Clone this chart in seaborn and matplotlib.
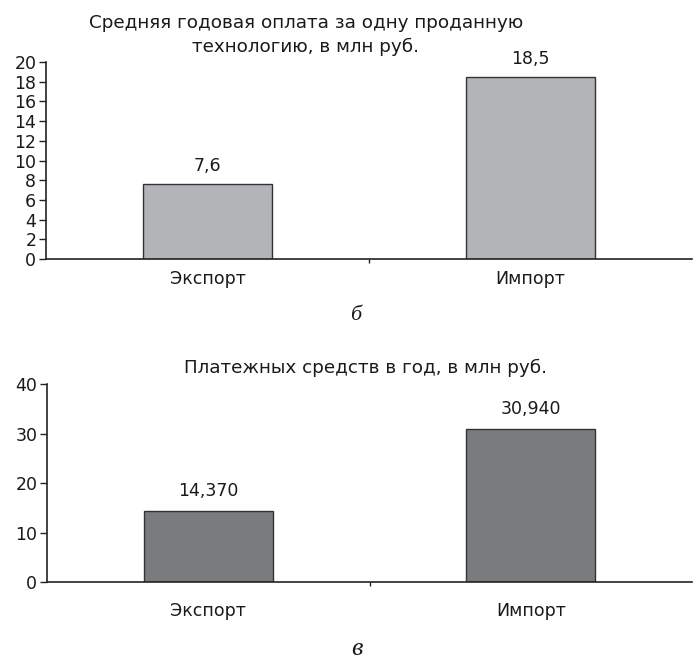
import matplotlib
matplotlib.use("Agg")
import matplotlib.pyplot as plt
import seaborn as sns
import pandas as pd

categories = ["Экспорт", "Импорт"]
avg_payment = [7.6, 18.5]
avg_payment_labels = ["7,6", "18,5"]
payments_year = [14.370, 30.940]
payments_year_labels = ["14,370", "30,940"]
title_top = ["Средняя годовая оплата за одну проданную", "технологию, в млн руб."]
title_bottom = "Платежных средств в год, в млн руб."
panel_letters = ["б", "в"]

sns.set_theme(style="white")
plt.rcParams['font.family'] = ['DejaVu Sans']

W, H = 694, 661
fig = plt.figure(figsize=(W / 100, H / 100), dpi=100)

def px(x0, y0, x1, y1):
    # pixel box (left, top, right, bottom) -> figure fraction rect
    return [x0 / W, 1 - y1 / H, (x1 - x0) / W, (y1 - y0) / H]

ax1 = fig.add_axes(px(46, 62, 692, 259))
ax2 = fig.add_axes(px(47, 384, 692, 582))

TXT = "#1a1a1a"

def draw(ax, values, labels, color, ymax, step, xpad, lpad):
    df = pd.DataFrame({"cat": categories, "val": values})
    sns.barplot(data=df, x="cat", y="val", color=color, edgecolor="#333333",
                linewidth=1.0, width=0.4, saturation=1, ax=ax)
    ax.bar_label(ax.containers[0], labels=labels, padding=lpad, fontsize=12.5, color=TXT)
    ax.set_xlim(-0.5, 1.5)
    ax.set_ylim(0, ymax)
    ax.set_yticks(range(0, ymax + 1, step))
    ax.set_xlabel("")
    ax.set_ylabel("")
    for s in ["top", "right"]:
        ax.spines[s].set_visible(False)
    for s in ["left", "bottom"]:
        ax.spines[s].set_color("#222222")
        ax.spines[s].set_linewidth(1.2)
    ax.tick_params(axis="y", left=True, length=5, width=1, color="#222222",
                   labelsize=12.5, pad=2, labelcolor=TXT)
    ax.tick_params(axis="x", bottom=False, labelsize=12.5, pad=xpad, labelcolor=TXT)
    ax.set_xticks([0.5], minor=True)
    ax.tick_params(axis="x", which="minor", bottom=True, length=3, width=1, color="#222222")

draw(ax1, avg_payment, avg_payment_labels, "#b3b4b8", 20, 2, 2, 6.5)
draw(ax2, payments_year, payments_year_labels, "#7a7b7f", 40, 10, 8.5, 8)

fig.text(306 / W, 1 - 23 / H, title_top[0], ha="center", va="center", fontsize=13.2, color=TXT)
fig.text(306 / W, 1 - 47 / H, title_top[1], ha="center", va="center", fontsize=13.2, color=TXT)
fig.text(365 / W, 1 - 368 / H, title_bottom, ha="center", va="center", fontsize=13.2, color=TXT)

fig.text(356 / W, 1 - 315 / H, panel_letters[0], ha="center", va="center", fontsize=16,
         style="italic", family=["Liberation Serif", "DejaVu Serif"], color=TXT)
fig.text(357 / W, 1 - 649 / H, panel_letters[1], ha="center", va="center", fontsize=19,
         style="italic", family=["Liberation Serif", "DejaVu Serif"], color=TXT)

fig.savefig("out.png", dpi=100)
